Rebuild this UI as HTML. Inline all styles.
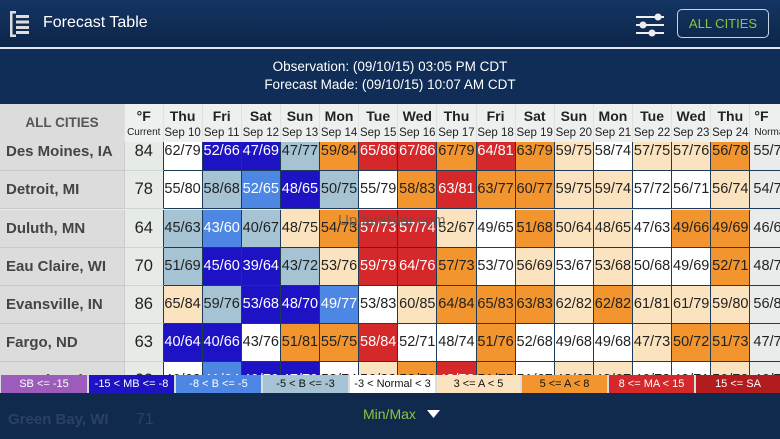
<!DOCTYPE html>
<html><head><meta charset="utf-8"><style>
*{box-sizing:border-box;margin:0;padding:0}
body{width:780px;height:439px;overflow:hidden;position:relative;font-family:"Liberation Sans",sans-serif;background:#0f2c55}
.top{position:absolute;left:0;top:0;width:780px;height:47px;background:linear-gradient(#143563,#0c2549)}
.sep{position:absolute;left:0;top:47px;width:780px;height:2px;background:#dfe6ee}
.info{position:absolute;left:0;top:49px;width:780px;height:55px;background:#0f2d57;color:#fff;font-size:13.5px;text-align:center;line-height:18px;padding-top:9px}
.title{position:absolute;left:43px;top:14px;color:#fff;font-size:16px}
.btn{position:absolute;left:677px;top:9px;width:92px;height:29px;border:1.5px solid #c8d4e0;border-radius:5px;color:#8cc63f;font-size:13px;text-align:center;line-height:27px}
.rows{position:absolute;left:0;top:104px;width:780px;height:271px;overflow:hidden;background:#e8ebea}
.row{position:absolute;left:0;display:flex;height:38px;width:800px}
.row>div{flex:none;height:38px;border-right:1px solid #1d3a57;border-bottom:1px solid #1d3a57;font-size:14.5px;color:#222;text-align:center;line-height:37px;white-space:nowrap;overflow:hidden}
.row>.city{width:125px;background:#dcdcdc;text-align:left;padding-left:6px;font-weight:bold;color:#444;font-size:15px;border-right:1px solid #ccc;border-bottom:1px solid #c9c9c9}
.row>.cur{width:38.5px;background:#e6ebe8;font-size:16.5px;border-bottom:1px solid #cfd5d3}
.row>.c{width:39.13px}
.row>.n{width:40px;background:#e9ecea;text-align:left;padding-left:3px}
.W{background:#fff}.DB{background:#1d12c4;color:#fff!important}.MB{background:#4d87e3;color:#fff!important}.LB{background:#a5c3d3}.P{background:#fce3bf}.O{background:#f2952f}.R{background:#d4282a;color:#fff!important}
.hdr{position:absolute;left:0;top:104px;width:780px;height:38px;display:flex;background:#eef0ef;z-index:2}
.hdr>div{flex:none;text-align:center;color:#222;border-right:1px solid #dfe2e1}
.hdr b{display:block;font-size:14px;line-height:20px;padding-top:2px}
.hdr span{display:block;font-size:11.5px;line-height:14px}
.legend{position:absolute;left:0;top:375px;width:780px;height:18px;background:#d9dde0;z-index:3}
.legend div{position:absolute;top:0;height:18px;font-size:11px;color:#fff;text-align:center;line-height:18px}
.bot{position:absolute;left:0;top:393px;width:780px;height:46px;background:rgba(16,42,78,0.92);z-index:3}
.wm{position:absolute;left:338px;top:212px;font-size:15px;color:#555;opacity:.75;z-index:4}
</style></head><body>
<div class="top"></div>
<svg style="position:absolute;left:10px;top:11px" width="24" height="26"><rect x="0" y="0" width="2.5" height="26" fill="#ddd"/><rect x="0" y="0" width="6" height="2.5" fill="#ddd"/><rect x="0" y="23.5" width="6" height="2.5" fill="#ddd"/><rect x="6" y="4" width="13" height="3" fill="#ddd"/><rect x="6" y="9.5" width="13" height="3" fill="#ddd"/><rect x="6" y="15" width="13" height="3" fill="#ddd"/><rect x="6" y="20" width="13" height="3" fill="#ddd"/></svg>
<div class="title">Forecast Table</div>
<svg style="position:absolute;left:636px;top:11px" width="30" height="26"><rect x="0" y="5" width="28" height="2" fill="#eee"/><circle cx="22" cy="6" r="3.5" fill="#eee"/><rect x="0" y="13" width="28" height="2" fill="#eee"/><circle cx="7" cy="14" r="3.5" fill="#eee"/><rect x="0" y="21" width="28" height="2" fill="#eee"/><circle cx="16" cy="22" r="3.5" fill="#eee"/></svg>
<div class="btn">ALL CITIES</div>
<div class="sep"></div>
<div class="info">Observation: (09/10/15) 03:05 PM CDT<br>Forecast Made: (09/10/15) 10:07 AM CDT</div>

<div class="hdr">
<div style="width:125px;background:#dcdcdc;font-weight:bold;color:#555;font-size:13.5px;line-height:38px">ALL CITIES</div>
<div style="width:38.5px"><b>°F</b><span style="font-size:10px">Current</span></div>
<div style="width:39.13px"><b>Thu</b><span>Sep 10</span></div>
<div style="width:39.13px"><b>Fri</b><span>Sep 11</span></div>
<div style="width:39.13px"><b>Sat</b><span>Sep 12</span></div>
<div style="width:39.13px"><b>Sun</b><span>Sep 13</span></div>
<div style="width:39.13px"><b>Mon</b><span>Sep 14</span></div>
<div style="width:39.13px"><b>Tue</b><span>Sep 15</span></div>
<div style="width:39.13px"><b>Wed</b><span>Sep 16</span></div>
<div style="width:39.13px"><b>Thu</b><span>Sep 17</span></div>
<div style="width:39.13px"><b>Fri</b><span>Sep 18</span></div>
<div style="width:39.13px"><b>Sat</b><span>Sep 19</span></div>
<div style="width:39.13px"><b>Sun</b><span>Sep 20</span></div>
<div style="width:39.13px"><b>Mon</b><span>Sep 21</span></div>
<div style="width:39.13px"><b>Tue</b><span>Sep 22</span></div>
<div style="width:39.13px"><b>Wed</b><span>Sep 23</span></div>
<div style="width:39.13px"><b>Thu</b><span>Sep 24</span></div>
<div style="width:40px;text-align:left;padding-left:4px"><b>°F</b><span style="font-size:10px">Normal</span></div>
</div>

<div class="rows">
<div class="row" style="top:29px"><div class="city">Des Moines, IA</div><div class="cur">84</div><div class="c W">62/79</div><div class="c DB">52/66</div><div class="c DB">47/69</div><div class="c LB">47/77</div><div class="c O">59/84</div><div class="c R">65/86</div><div class="c R">67/86</div><div class="c O">67/79</div><div class="c R">64/81</div><div class="c O">63/79</div><div class="c P">59/75</div><div class="c W">58/74</div><div class="c P">57/75</div><div class="c P">57/76</div><div class="c O">56/78</div><div class="n">55/7</div></div>
<div class="row" style="top:67px"><div class="city">Detroit, MI</div><div class="cur">78</div><div class="c W">55/80</div><div class="c LB">58/68</div><div class="c MB">52/65</div><div class="c DB">48/65</div><div class="c LB">50/75</div><div class="c W">55/79</div><div class="c O">58/83</div><div class="c R">63/81</div><div class="c O">63/77</div><div class="c O">60/77</div><div class="c P">59/75</div><div class="c P">59/74</div><div class="c W">57/72</div><div class="c W">56/71</div><div class="c P">56/74</div><div class="n">54/7</div></div>
<div class="row" style="top:106px"><div class="city">Duluth, MN</div><div class="cur">64</div><div class="c LB">45/63</div><div class="c MB">43/60</div><div class="c LB">40/67</div><div class="c P">48/75</div><div class="c O">54/73</div><div class="c R">57/73</div><div class="c R">57/74</div><div class="c P">52/67</div><div class="c W">49/65</div><div class="c O">51/68</div><div class="c P">50/64</div><div class="c P">48/65</div><div class="c W">47/63</div><div class="c O">49/66</div><div class="c O">49/69</div><div class="n">46/6</div></div>
<div class="row" style="top:144px"><div class="city">Eau Claire, WI</div><div class="cur">70</div><div class="c LB">51/69</div><div class="c DB">45/60</div><div class="c DB">39/64</div><div class="c LB">43/72</div><div class="c P">53/76</div><div class="c R">59/79</div><div class="c R">64/76</div><div class="c O">57/73</div><div class="c W">53/70</div><div class="c P">56/69</div><div class="c W">53/67</div><div class="c P">53/68</div><div class="c W">50/68</div><div class="c W">49/69</div><div class="c O">52/71</div><div class="n">48/7</div></div>
<div class="row" style="top:182px"><div class="city">Evansville, IN</div><div class="cur">86</div><div class="c P">65/84</div><div class="c LB">59/76</div><div class="c DB">53/68</div><div class="c DB">48/70</div><div class="c MB">49/77</div><div class="c W">53/83</div><div class="c P">60/85</div><div class="c O">64/84</div><div class="c O">65/83</div><div class="c O">63/83</div><div class="c P">62/82</div><div class="c O">62/82</div><div class="c P">61/81</div><div class="c P">61/79</div><div class="c P">59/80</div><div class="n">56/8</div></div>
<div class="row" style="top:220px"><div class="city">Fargo, ND</div><div class="cur">63</div><div class="c DB">40/64</div><div class="c DB">40/66</div><div class="c W">43/76</div><div class="c O">51/81</div><div class="c O">55/75</div><div class="c R">58/84</div><div class="c W">52/71</div><div class="c W">48/74</div><div class="c O">51/76</div><div class="c W">52/68</div><div class="c W">49/68</div><div class="c W">49/68</div><div class="c P">47/73</div><div class="c O">50/72</div><div class="c O">51/73</div><div class="n">47/7</div></div>
<div class="row" style="top:258px"><div class="city">Grand Forks, ND</div><div class="cur">62</div><div class="c W">40/62</div><div class="c MB">41/64</div><div class="c DB">40/70</div><div class="c DB">47/79</div><div class="c W">53/74</div><div class="c P">56/82</div><div class="c O">52/70</div><div class="c R">48/73</div><div class="c O">51/75</div><div class="c W">51/67</div><div class="c P">48/67</div><div class="c P">48/67</div><div class="c W">46/72</div><div class="c W">49/71</div><div class="c P">50/72</div><div class="n">46/7</div></div>
</div>
<div class="wm">UpdateStar.com</div>

<div class="legend">
<div style="left:1px;width:86px;background:#9c5cbc">SB &lt;= -15</div>
<div style="left:89px;width:85px;background:#1d12c4">-15 &lt; MB &lt;= -8</div>
<div style="left:176px;width:85px;background:#4d87e3">-8 &lt; B &lt;= -5</div>
<div style="left:263px;width:85px;background:#a5c3d3;color:#111">-5 &lt; B &lt;= -3</div>
<div style="left:350px;width:85px;background:#fff;color:#111">-3 &lt; Normal &lt; 3</div>
<div style="left:437px;width:83px;background:#fce3bf;color:#111">3 &lt;= A &lt; 5</div>
<div style="left:522px;width:85px;background:#f2952f;color:#111">5 &lt;= A &lt; 8</div>
<div style="left:609px;width:85px;background:#d4282a">8 &lt;= MA &lt; 15</div>
<div style="left:696px;width:84px;background:#b31c1e">15 &lt;= SA</div>
</div>
<div class="bot">
<div style="position:absolute;left:8px;top:18px;color:#2a4262;font-size:15px;font-weight:bold">Green Bay, WI</div>
<div style="position:absolute;left:136px;top:18px;color:#2a4262;font-size:16px">71</div>
<div style="position:absolute;left:363px;top:13px;color:#8cc63f;font-size:14px">Min/Max</div>
<svg style="position:absolute;left:427px;top:17px" width="13" height="10"><polygon points="0,0 13,0 6.5,8" fill="#fff"/></svg>
</div>
</body></html>
